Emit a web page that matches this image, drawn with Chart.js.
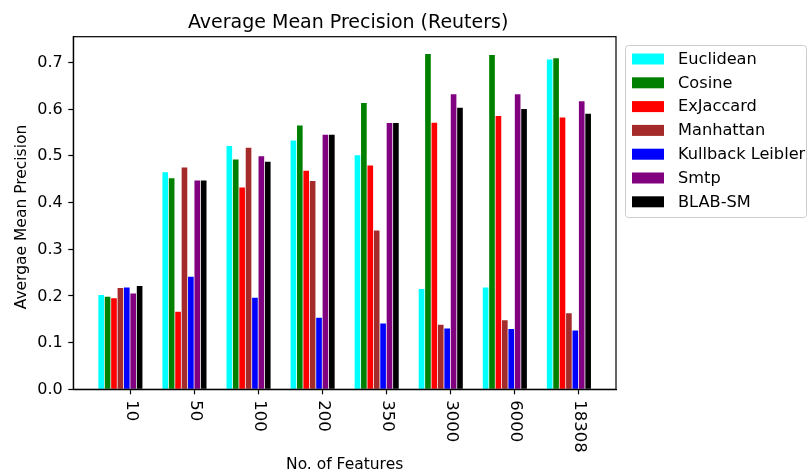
<!DOCTYPE html>
<html>
<head>
<meta charset="utf-8">
<script src="https://cdn.jsdelivr.net/npm/chart.js@4/dist/chart.umd.min.js"></script>
<style>
  html, body { margin: 0; padding: 0; background: #fff; }
  canvas { display: block; }
</style>
</head>
<body>
<canvas id="c" width="808" height="476"></canvas>
<script>
// ---- data ----
const categories = ['10', '50', '100', '200', '350', '3000', '6000', '18308'];
const seriesNames = ['Euclidean', 'Cosine', 'ExJaccard', 'Manhattan', 'Kullback Leibler', 'Smtp', 'BLAB-SM'];
const euclidean = [0.202, 0.465, 0.521, 0.533, 0.501, 0.215, 0.218, 0.706];
const cosine    = [0.198, 0.452, 0.492, 0.565, 0.613, 0.718, 0.716, 0.709];
const exjaccard = [0.195, 0.166, 0.432, 0.468, 0.479, 0.571, 0.585, 0.582];
const manhattan = [0.217, 0.475, 0.517, 0.446, 0.340, 0.138, 0.148, 0.163];
const kullback  = [0.218, 0.241, 0.196, 0.153, 0.141, 0.130, 0.129, 0.126];
const smtp      = [0.205, 0.447, 0.499, 0.545, 0.570, 0.632, 0.632, 0.617];
const blabsm    = [0.221, 0.447, 0.487, 0.545, 0.570, 0.603, 0.600, 0.590];
const yTicks = [0.0, 0.1, 0.2, 0.3, 0.4, 0.5, 0.6, 0.7];

const titleText = 'Average Mean Precision (Reuters)';
const xTitle = 'No. of Features';
const yTitle = 'Avergae Mean Precision';

// ---- styling / layout ----
const seriesValues = [euclidean, cosine, exjaccard, manhattan, kullback, smtp, blabsm];
const colors = ['#00ffff', '#008000', '#ff0000', '#a52a2a', '#0000ff', '#800080', '#000000'];
const GROUP_CENTER = 0.3;   // groups of 7 bars of width 0.1 centred on index + 0.3
const TICK_SHIFT = 0.45;    // tick marks sit at index + 0.45
const FONT = '"DejaVu Sans", sans-serif';

const datasets = seriesNames.map((name, s) => ({
  label: name,
  data: categories.map((_, i) => ({ x: i + GROUP_CENTER, y: seriesValues[s][i] })),
  backgroundColor: colors[s],
  borderWidth: 0,
  barPercentage: 0.88,
  categoryPercentage: 0.7
}));

const decor = {
  id: 'decor',
  afterDraw(chart) {
    const ctx = chart.ctx;
    const a = chart.chartArea;
    const xs = chart.scales.x, ys = chart.scales.y;
    ctx.save();
    // frame
    ctx.strokeStyle = '#000';
    ctx.lineWidth = 1.2;
    ctx.strokeRect(a.left, a.top, a.right - a.left, a.bottom - a.top);
    ctx.fillStyle = '#000';
    // title
    ctx.font = '19px ' + FONT;
    ctx.textAlign = 'center';
    ctx.textBaseline = 'alphabetic';
    ctx.fillText(titleText, (a.left + a.right) / 2 + 3.5, 27.7);
    // y tick labels
    ctx.font = '16px ' + FONT;
    ctx.textAlign = 'right';
    ctx.textBaseline = 'middle';
    yTicks.forEach(v => {
      ctx.fillText(v.toFixed(1), a.left - 10.5, ys.getPixelForValue(v) + 0.5);
    });
    // x tick labels, rotated clockwise
    ctx.font = '16.5px ' + FONT;
    ctx.textAlign = 'left';
    categories.forEach((lab, i) => {
      const px = xs.getPixelForValue(i + TICK_SHIFT);
      ctx.save();
      ctx.translate(px + 1, a.bottom + 11);
      ctx.rotate(Math.PI / 2);
      ctx.fillText(lab, 0, 0);
      ctx.restore();
    });
    // axis titles
    ctx.font = '15.5px ' + FONT;
    ctx.textAlign = 'center';
    ctx.textBaseline = 'middle';
    ctx.fillText(xTitle, (a.left + a.right) / 2, 465);
    ctx.save();
    ctx.translate(22, (a.top + a.bottom) / 2 + 4);
    ctx.rotate(-Math.PI / 2);
    ctx.fillText(yTitle, 0, 0);
    ctx.restore();
    // legend
    const lx = 625, ly = 45, lw = 181, lh = 172;
    ctx.beginPath();
    ctx.roundRect(lx + 0.5, ly + 0.5, lw, lh, 3);
    ctx.fillStyle = 'rgba(255,255,255,0.8)';
    ctx.fill();
    ctx.strokeStyle = '#cccccc';
    ctx.lineWidth = 1;
    ctx.stroke();
    ctx.font = '16.2px ' + FONT;
    ctx.textAlign = 'left';
    ctx.textBaseline = 'middle';
    chart.data.datasets.forEach((ds, k) => {
      const cy = 59 + k * 23.8;
      ctx.fillStyle = ds.backgroundColor;
      ctx.fillRect(632, cy - 5.5, 32, 11);
      ctx.fillStyle = '#000';
      ctx.fillText(ds.label, 678, cy + 0.5);
    });
    ctx.restore();
  }
};

new Chart(document.getElementById('c'), {
  type: 'bar',
  data: { datasets },
  options: {
    responsive: false,
    animation: false,
    devicePixelRatio: 1,
    layout: { padding: { left: 0, right: 192, top: 36.7, bottom: 0 } },
    plugins: { legend: { display: false }, tooltip: { enabled: false }, title: { display: false } },
    scales: {
      x: {
        type: 'linear',
        min: -0.435,
        max: 8.035,
        offset: false,
        grid: { display: true, drawOnChartArea: false, drawTicks: true, tickLength: 5, tickColor: '#000', tickWidth: 1.2, offset: false },
        border: { display: true, color: '#000', width: 1.2 },
        ticks: { display: false },
        afterBuildTicks(scale) { scale.ticks = categories.map((_, i) => ({ value: i + TICK_SHIFT })); },
        afterFit(scale) { scale.height = 476 - 389.3; }
      },
      y: {
        type: 'linear',
        min: 0,
        max: 0.755,
        grid: { display: true, drawOnChartArea: false, drawTicks: true, tickLength: 5, tickColor: '#000', tickWidth: 1.2 },
        border: { display: true, color: '#000', width: 1.2 },
        ticks: { display: false },
        afterBuildTicks(scale) { scale.ticks = yTicks.map(v => ({ value: v })); },
        afterFit(scale) { scale.width = 73.3; }
      }
    }
  },
  plugins: [decor]
});
</script>
</body>
</html>
